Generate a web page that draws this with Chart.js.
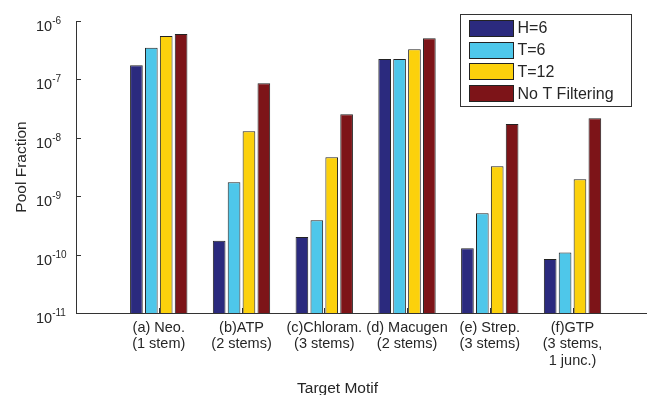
<!DOCTYPE html>
<html>
<head>
<meta charset="utf-8">
<script src="https://cdn.jsdelivr.net/npm/chart.js@4"></script>
<style>
  html, body { margin: 0; padding: 0; background: #fff; overflow: hidden; }
  canvas { display: block; }
</style>
</head>
<body>
<canvas id="poolChart" width="647" height="395"></canvas>
<script>
const categories = [
    ['(a) Neo.', '(1 stem)'],
    ['(b)ATP', '(2 stems)'],
    ['(c)Chloram.', '(3 stems)'],
    ['(d) Macugen', '(2 stems)'],
    ['(e) Strep.', '(3 stems)'],
    ['(f)GTP', '(3 stems,', '1 junc.)']
];
const seriesNames = ['H=6', 'T=6', 'T=12', 'No T Filtering'];
const h6 = [1.74e-7, 1.73e-10, 2.0e-10, 2.24e-7, 1.28e-10, 8.4e-11];
const t6 = [3.49e-7, 1.73e-9, 3.87e-10, 2.24e-7, 5.09e-10, 1.09e-10];
const t12 = [5.54e-7, 1.29e-8, 4.63e-9, 3.27e-7, 3.25e-9, 1.95e-9];
const noT = [5.99e-7, 8.57e-8, 2.52e-8, 5.06e-7, 1.72e-8, 2.16e-8];
const yExponents = [-11, -10, -9, -8, -7, -6];

const colors = ['#2b2a7e', '#4ec7ea', '#fcd10c', '#7d1418'];
const FONT = "'Liberation Sans', Arial, Helvetica, sans-serif";
const textColor = '#262626';

// bars sit on a linear x axis so that category 1..6 leave a gap on the left like the original
const toPoints = values => values.map((v, i) => ({ x: i + 1, y: v }));

const axisDecor = {
    id: 'axisDecor',
    beforeDatasetsDraw(chart) {
        const { ctx, chartArea, scales: { x, y } } = chart;
        ctx.save();
        ctx.strokeStyle = '#333';
        ctx.lineWidth = 1;
        ctx.beginPath();
        x.ticks.forEach(t => {
            const px = Math.round(x.getPixelForValue(t.value)) + 0.5;
            ctx.moveTo(px, chartArea.bottom);
            ctx.lineTo(px, chartArea.bottom - 5);
        });
        y.ticks.forEach(t => {
            const py = Math.round(y.getPixelForValue(t.value)) + 0.5;
            ctx.moveTo(chartArea.left, py);
            ctx.lineTo(chartArea.left + 5, py);
        });
        ctx.stroke();
        ctx.restore();
    },
    afterDraw(chart) {
        const { ctx, scales: { y } } = chart;
        ctx.save();
        ctx.fillStyle = textColor;
        ctx.textAlign = 'left';
        ctx.textBaseline = 'alphabetic';
        // y tick labels: 10 with a raised exponent
        yExponents.forEach(e => {
            const py = y.getPixelForValue(Math.pow(10, e));
            ctx.font = '14.5px ' + FONT;
            ctx.fillText('10', 36, py + 10);
            const w = ctx.measureText('10').width;
            ctx.font = '10px ' + FONT;
            ctx.fillText(String(e), 36 + w, py + 3);
        });

        // legend box in the top right corner
        const lx = 460.5, ly = 14.5, lw = 171, lh = 92;
        ctx.fillStyle = '#fff';
        ctx.fillRect(lx, ly, lw, lh);
        ctx.strokeStyle = '#333';
        ctx.lineWidth = 1;
        ctx.strokeRect(lx, ly, lw, lh);
        chart.data.datasets.forEach((ds, i) => {
            const cy = 28 + i * 21.7;
            ctx.fillStyle = ds.backgroundColor;
            ctx.fillRect(469.5, Math.round(cy - 8) + 0.5, 44, 16);
            ctx.strokeStyle = '#222';
            ctx.strokeRect(469.5, Math.round(cy - 8) + 0.5, 44, 16);
            ctx.fillStyle = textColor;
            ctx.font = '16px ' + FONT;
            ctx.textBaseline = 'middle';
            ctx.fillText(ds.label, 517.5, cy + 1);
        });
        ctx.restore();
    }
};

const seriesValues = [h6, t6, t12, noT];

new Chart(document.getElementById('poolChart'), {
    type: 'bar',
    data: {
        datasets: seriesNames.map((name, i) => ({
            label: name,
            data: toPoints(seriesValues[i]),
            backgroundColor: colors[i],
            borderColor: '#222',
            borderWidth: 1,
            borderSkipped: 'start',
            categoryPercentage: 0.72,
            barPercentage: 0.85
        }))
    },
    options: {
        responsive: false,
        animation: false,
        devicePixelRatio: 1,
        layout: { padding: { left: 28, top: 21, right: 0, bottom: 0 } },
        plugins: {
            legend: { display: false },
            tooltip: { enabled: false },
            title: {
                display: true,
                position: 'bottom',
                text: 'Target Motif',
                color: textColor,
                font: { family: FONT, size: 15.5, weight: 'normal' },
                padding: { top: 3.5, bottom: -3.5 }
            }
        },
        scales: {
            x: {
                type: 'linear',
                offset: false,
                min: 0,
                max: 6.9,
                afterBuildTicks: scale => {
                    scale.ticks = categories.map((c, i) => ({ value: i + 1 }));
                },
                afterFit: scale => { scale.height = 63.4; },
                grid: { display: false, offset: false },
                border: { display: true, color: '#333', width: 1 },
                ticks: {
                    autoSkip: false,
                    maxRotation: 0,
                    padding: -1,
                    color: textColor,
                    font: { family: FONT, size: 14.5, lineHeight: 1.12 },
                    callback: value => categories[value - 1] || ''
                }
            },
            y: {
                type: 'logarithmic',
                min: 1e-11,
                max: 1e-6,
                afterBuildTicks: scale => {
                    scale.ticks = yExponents.map(e => ({ value: Math.pow(10, e) }));
                },
                afterFit: scale => { scale.width = 48; },
                grid: { display: false },
                border: { display: true, color: '#333', width: 1 },
                ticks: { display: false },
                title: {
                    display: true,
                    text: 'Pool Fraction',
                    color: textColor,
                    font: { family: FONT, size: 15.5 },
                    padding: { top: -15.3, bottom: 0 }
                }
            }
        }
    },
    plugins: [axisDecor]
});
</script>
</body>
</html>
